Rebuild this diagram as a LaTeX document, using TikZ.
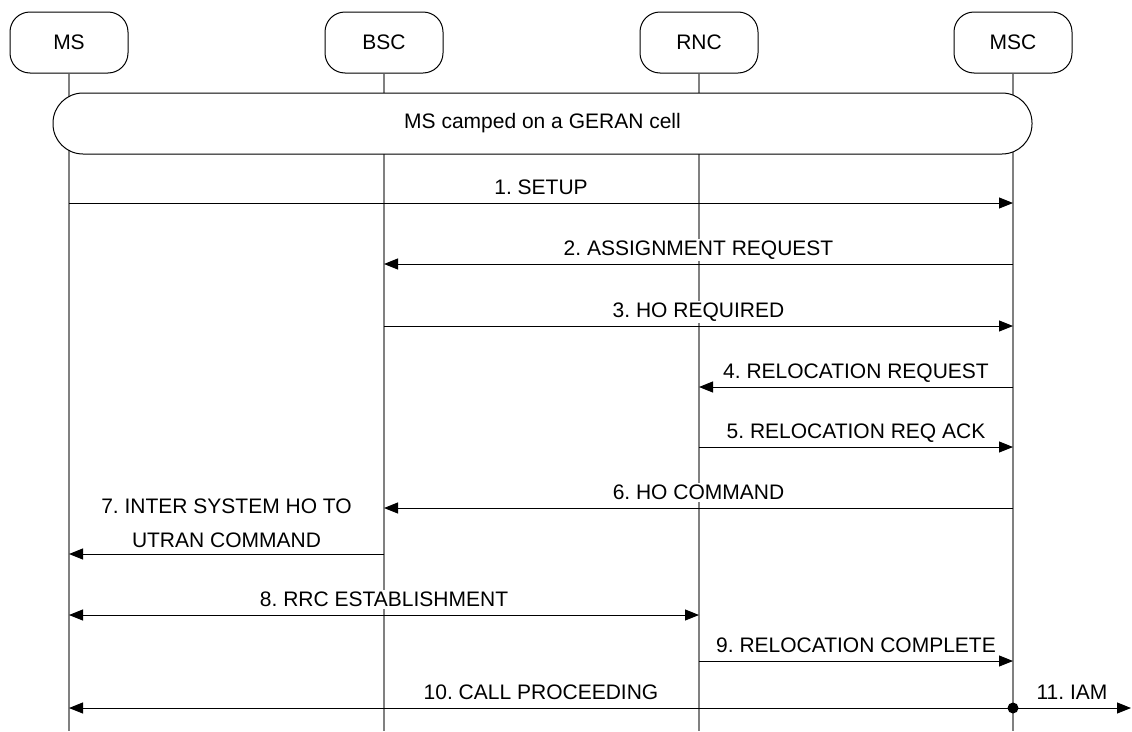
\documentclass[tikz,border=0pt]{standalone}
\usepackage{fontspec}
\setmainfont{Liberation Sans}
\usetikzlibrary{arrows.meta,calc}
\frenchspacing
\tikzset{
  entity/.style={draw=black, line width=1pt, rounded corners=20pt, minimum width=118pt, minimum height=61pt, inner sep=0pt, fill=white},
  statebox/.style={draw=black, line width=1pt, rounded corners=30pt, minimum width=979pt, minimum height=61pt, inner sep=0pt, fill=white},
  lifeline/.style={draw={rgb,255:red,128;green,128;blue,128}, line width=1.2pt},
  msg/.style={draw=black, line width=1pt, -{Triangle[length=14pt,width=11pt]}},
  bimsg/.style={draw=black, line width=1pt, {Triangle[length=14pt,width=11pt]}-{Triangle[length=14pt,width=11pt]}},
  lbl/.style={fill=white, inner xsep=2pt, inner ysep=2pt, anchor=base, yshift=8.7pt}
}
\begin{document}
\begin{tikzpicture}[x=1pt,y=-1pt, font=\fontsize{21}{34}\selectfont]
\useasboundingbox (0,0) rectangle (1132,731);
% entities
\node[entity] (ms)  at (69,42.5)   {MS};
\node[entity] (bsc) at (384,42.5)  {BSC};
\node[entity] (rnc) at (699,42.5)  {RNC};
\node[entity] (msc) at (1013,42.5) {MSC};
% lifeline points
\foreach \i/\y in {1/203,2/264,3/326,4/387,5/447,6/508,7/554,8/615,9/661,10/708,e/731}{
  \foreach \n in {ms,bsc,rnc,msc}{
    \coordinate (\n\i) at (\n |- 0,\y);
  }
}
\coordinate (iamend) at (1131,708);
% lifelines
\foreach \n in {ms,bsc,rnc,msc}{
  \draw[lifeline] (\n.south) -- (\n e);
}
% state box
\node[statebox] (camp) at (542.5,123.5) {MS camped on a GERAN cell};
% labels
\node[lbl] (l1) at ($(ms1)!0.5!(msc1)$) {1. SETUP};
\node[lbl] (l2) at ($(bsc2)!0.5!(msc2)$) {2. ASSIGNMENT REQUEST};
\node[lbl] (l3) at ($(bsc3)!0.5!(msc3)$) {3. HO REQUIRED};
\node[lbl] (l4) at ($(rnc4)!0.5!(msc4)$) {4. RELOCATION REQUEST};
\node[lbl] (l5) at ($(rnc5)!0.5!(msc5)$) {5. RELOCATION REQ ACK};
\node[lbl] (l6) at ($(bsc6)!0.5!(msc6)$) {6. HO COMMAND};
\node[fill=white, inner sep=2pt, anchor=south, align=center] (l7) at ($(ms7)!0.5!(bsc7)+(0,-4)$) {7. INTER SYSTEM HO TO\\UTRAN COMMAND};
\node[lbl] (l8) at ($(ms8)!0.5!(rnc8)$) {8. RRC ESTABLISHMENT};
\node[lbl] (l9) at ($(rnc9)!0.5!(msc9)$) {9. RELOCATION COMPLETE};
\node[lbl] (l10) at ($(ms10)!0.5!(msc10)$) {10. CALL PROCEEDING};
\node[lbl] (l11) at ($(msc10)!0.5!(iamend)$) {11. IAM};
% messages
\draw[msg] (ms1) -- (msc1);
\draw[msg] (msc2) -- (bsc2);
\draw[msg] (bsc3) -- (msc3);
\draw[msg] (msc4) -- (rnc4);
\draw[msg] (rnc5) -- (msc5);
\draw[msg] (msc6) -- (bsc6);
\draw[msg] (bsc7) -- (ms7);
\draw[bimsg] (ms8) -- (rnc8);
\draw[msg] (rnc9) -- (msc9);
\draw[msg] (msc10) -- (ms10);
\draw[msg] (msc10) -- (iamend);
\fill[black] (msc10) circle (5.5pt);
\end{tikzpicture}
\end{document}
